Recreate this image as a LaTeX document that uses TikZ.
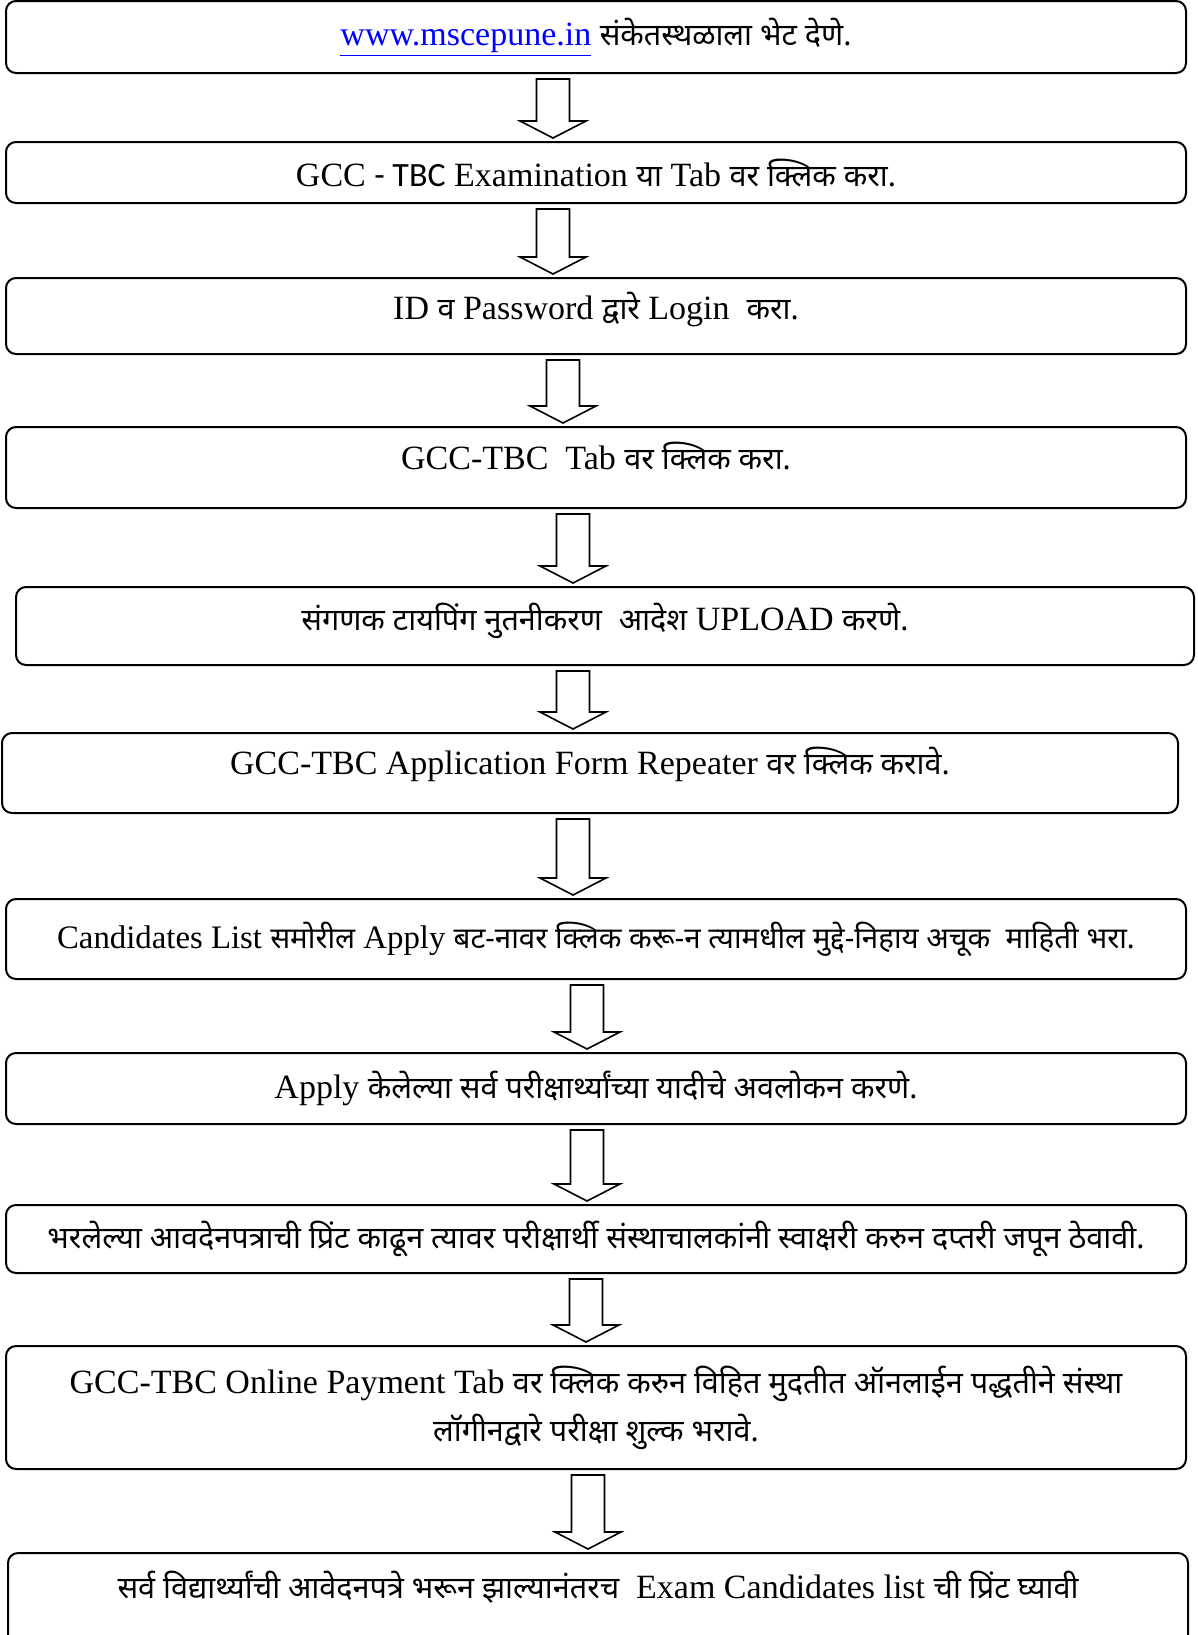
\documentclass[tikz,border=0pt]{standalone}
\usepackage{fontspec}
\setmainfont{Liberation Serif}
\newfontfamily\devfont[Script=Devanagari,Scale=0.9]{Noto Sans}
\newfontfamily\calfont{Carlito}
\usetikzlibrary{calc}

% Marathi text run
\newcommand\mr[1]{{\devfont #1}}
% hollow block arrow from one box down to the next, at x position #3
\newcommand\flowarrow[3]{%
  \draw [arrowline] (#1.south -| #3,0) ++(-16.5,5) -- ++(33,0)
    -- ($(#2.north -| #3,0)+(16.5,-20)$) -- ++(16.5,0)
    -- ($(#2.north -| #3,0)+(0,-3)$) -- ++(-33,-17) -- ++(16.5,0) -- cycle;}

\begin{document}
\begin{tikzpicture}
  [x=0.5pt,y=-0.5pt,
   stepbox/.style={draw,line width=1pt,rounded corners=5pt,inner sep=0pt,
     minimum width=590pt,align=center,font=\fontsize{17}{24}\selectfont},
   textup/.style={text height=13pt,text depth=#1},
   arrowline/.style={line width=0.8pt,line join=miter}]
  \clip (0,0) rectangle (1198,1635);
  \node (visit) at (596,37) [stepbox,minimum height=36pt]
    {\textcolor{blue}{\underline{www.mscepune.in}} \mr{संकेतस्थळाला भेट देणे.}};
  \node (examtab) at (596,172.5) [stepbox,minimum height=30.5pt]
    {GCC {\calfont - TBC} Examination \mr{या} Tab \mr{वर क्लिक करा.}};
  \node (login) at (596,316) [stepbox,minimum height=38pt,textup=10pt]
    {ID \mr{व} Password \mr{द्वारे} Login\ \ \mr{करा.}};
  \node (gcctab) at (596,467.5) [stepbox,minimum height=40.5pt,textup=11pt]
    {GCC-TBC\ \ Tab \mr{वर क्लिक करा.}};
  \node (upload) at (605,626) [stepbox,minimum width=589pt,minimum height=39pt,textup=9pt]
    {\mr{संगणक टायपिंग नुतनीकरण}\ \ \mr{आदेश} UPLOAD \mr{करणे.}};
  \node (repeater) at (590,773) [stepbox,minimum width=588pt,minimum height=40pt,textup=12pt]
    {GCC-TBC Application Form Repeater \mr{वर क्लिक करावे.}};
  \node (apply) at (596,939) [stepbox,minimum height=40pt,font=\fontsize{16.4}{24}\selectfont]
    {Candidates List \mr{समोरील} Apply \mr{बट-नावर क्लिक करू-न त्यामधील मुद्दे-निहाय अचूक\ \ माहिती भरा.}};
  \node (review) at (596,1088.5) [stepbox,minimum height=35.5pt]
    {Apply \mr{केलेल्या सर्व परीक्षार्थ्यांच्या यादीचे अवलोकन करणे.}};
  \node (printform) at (596,1239) [stepbox,minimum height=34pt]
    {\mr{भरलेल्या आवदेनपत्राची प्रिंट काढून त्यावर परीक्षार्थी संस्थाचालकांनी स्वाक्षरी करुन दप्तरी जपून ठेवावी.}};
  \node (payment) at (596,1407.5) [stepbox,minimum height=61.5pt]
    {GCC-TBC Online Payment Tab \mr{वर क्लिक करुन विहित मुदतीत ऑनलाईन पद्धतीने संस्था}\\
     \mr{लॉगीनद्वारे परीक्षा शुल्क भरावे.}};
  \node (candlist) at (598,1603) [stepbox,minimum height=50pt,textup=17.6pt]
    {\mr{सर्व विद्यार्थ्यांची आवेदनपत्रे भरून झाल्यानंतरच}\ \ Exam Candidates list \mr{ची प्रिंट घ्यावी}};
  \flowarrow{visit}{examtab}{553}
  \flowarrow{examtab}{login}{553}
  \flowarrow{login}{gcctab}{563}
  \flowarrow{gcctab}{upload}{573}
  \flowarrow{upload}{repeater}{573}
  \flowarrow{repeater}{apply}{573}
  \flowarrow{apply}{review}{587}
  \flowarrow{review}{printform}{587}
  \flowarrow{printform}{payment}{586}
  \flowarrow{payment}{candlist}{588}
\end{tikzpicture}
\end{document}
